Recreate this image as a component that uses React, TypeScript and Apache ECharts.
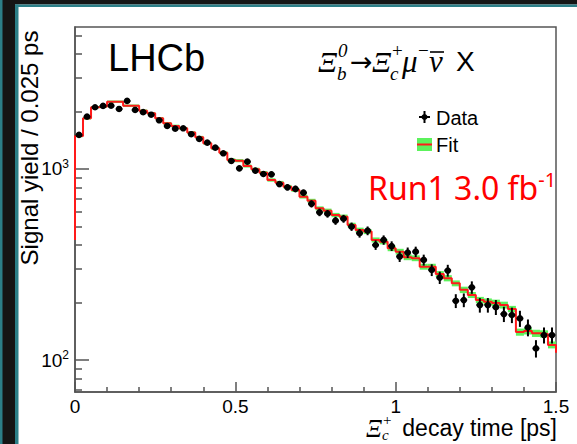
import React, { useEffect, useRef } from 'react';
import * as echarts from 'echarts';

// ---- data ----
const binWidth = 0.025; // ps per bin
const xMin = 0;
const xMax = 1.5;
const yMin = 68;
const yMax = 5535;

const dataValues = [
  1507, 1879, 2104, 2138, 2143, 2061, 2270, 2036, 1982, 1923,
  1798, 1679, 1625, 1633, 1520, 1436, 1373, 1293, 1208, 1101,
  1008, 1092, 980, 941, 938, 834, 802, 786, 751, 657,
  593, 583, 536, 549, 499, 461, 475, 400, 425, 395,
  348, 365, 369, 334, 296, 270, 294, 204, 206, 240,
  194, 194, 189, 174, 172, 165, 148, 115, 135, 135,
];
const dataErrors = [
  38, 45, 50, 50, 50, 49, 53, 48, 47, 46,
  46, 44, 43, 44, 42, 41, 40, 39, 38, 36,
  34, 36, 34, 34, 34, 31, 31, 31, 30, 28,
  27, 27, 26, 26, 25, 24, 25, 23, 24, 23,
  22, 23, 23, 22, 21, 20, 21, 17, 17, 18,
  17, 17, 17, 16, 16, 16, 15, 12, 13, 13,
];
const fitValues = [
  1489, 1842, 2104, 2120, 2250, 2250, 2143, 2143, 2018, 1958,
  1842, 1735, 1679, 1633, 1550, 1466, 1364, 1283, 1216, 1115,
  1105, 1037, 996, 956, 876, 848, 808, 776, 716, 682,
  622, 605, 574, 562, 509, 479, 470, 425, 416, 384,
  369, 345, 341, 308, 308, 282, 268, 252, 233, 219,
  206, 202, 199, 194, 185, 140, 142, 138, 137, 120,
];
const fitErrors = [
  22, 27, 30, 30, 32, 32, 31, 31, 30, 29,
  28, 27, 27, 26, 25, 24, 23, 22, 22, 21,
  21, 20, 19, 19, 18, 18, 17, 17, 16, 16,
  15, 15, 15, 15, 14, 14, 14, 13, 13, 13,
  13, 12, 12, 11, 11, 10, 10, 9, 9, 8,
  8, 8, 8, 8, 7, 6, 6, 6, 6, 5,
];
const fitEdgeStart = 425;
const fitEdgeEnd = 109;

const xTickLabels = [0, 0.5, 1, 1.5];
const yMajorTicks = [100, 1000];
const yMinorTicks = [70, 80, 90, 200, 300, 400, 500, 600, 700, 800, 900, 2000, 3000, 4000, 5000];

// ---- styles ----
const AX = '#555';
const SANS = '"Liberation Sans", Arial, sans-serif';
const SERIF = '"Liberation Serif", "DejaVu Serif", serif';
const RED = '#ff1a1a';
const GREEN = '#5cf25c';
const CAL = '"Noto Sans", "Open Sans", sans-serif';

function txt(text: string, x: number, y: number, font: string, extra: any = {}) {
  return {
    type: 'text',
    x,
    y,
    style: { text, font, fill: '#000', align: 'left', verticalAlign: 'middle', ...extra },
  };
}

export default function App() {
  const ref = useRef<HTMLDivElement>(null);

  useEffect(() => {
    const chart = echarts.init(ref.current!, null, { renderer: 'svg' });

    const dataPoints = dataValues.map((v, i) => [(i + 0.5) * binWidth, v, dataErrors[i]]);
    const bandRects = fitValues.map((v, i) => [i * binWidth, (i + 1) * binWidth, v - fitErrors[i], v + fitErrors[i]]);
    const stepPoints: number[][] = [[xMin, fitEdgeStart]];
    fitValues.forEach((v, i) => stepPoints.push([i * binWidth, v]));
    stepPoints.push([xMax, fitValues[fitValues.length - 1]]);
    stepPoints.push([xMax, fitEdgeEnd]);

    const halfArm = 0.0105;

    const option: any = {
      animation: false,
      backgroundColor: '#ffffff',
      grid: {
        left: 75, top: 27, width: 481, height: 365,
        show: true, borderColor: AX, borderWidth: 1.5, containLabel: false,
      },
      xAxis: {
        type: 'value', min: xMin, max: xMax, interval: 0.5,
        axisLine: { show: true, onZero: false, lineStyle: { color: AX, width: 1.5 } },
        axisTick: { show: true, inside: true, length: 10, lineStyle: { color: AX, width: 1.5 } },
        minorTick: { show: true, splitNumber: 5, length: 5, lineStyle: { color: AX, width: 1.5 } },
        splitLine: { show: false },
        axisLabel: {
          margin: 5, fontSize: 19, fontFamily: SANS, color: '#000',
          customValues: xTickLabels,
          formatter: (v: number) => String(v),
        },
      },
      yAxis: [
        {
          type: 'log', logBase: 10, min: yMin, max: yMax,
          axisLine: { show: true, lineStyle: { color: AX, width: 1.5 } },
          axisTick: { show: true, inside: true, length: 14, customValues: yMajorTicks, lineStyle: { color: AX, width: 1.5 } },
          splitLine: { show: false },
          minorTick: { show: false },
          axisLabel: {
            margin: 6,
            customValues: yMajorTicks,
            formatter: (v: number) => `{b|10}{s|${Math.round(Math.log10(v))}}`,
            rich: {
              b: { fontSize: 19, fontFamily: SANS, color: '#000', lineHeight: 22 },
              s: { fontSize: 12, fontFamily: SANS, color: '#000', verticalAlign: 'top', lineHeight: 12 },
            },
          },
        },
        {
          type: 'log', logBase: 10, min: yMin, max: yMax, position: 'left',
          axisLine: { show: false },
          axisTick: { show: true, inside: true, length: 7, customValues: yMinorTicks, lineStyle: { color: AX, width: 1.5 } },
          axisLabel: { show: false },
          splitLine: { show: false },
          minorTick: { show: false },
        },
      ],
      series: [
        {
          type: 'custom', name: 'band', z: 1, data: bandRects,
          encode: { x: [0, 1], y: [2, 3] },
          renderItem: (params: any, api: any) => {
            const p0 = api.coord([api.value(0), api.value(3)]);
            const p1 = api.coord([api.value(1), api.value(2)]);
            return {
              type: 'rect',
              shape: { x: p0[0], y: p0[1], width: p1[0] - p0[0], height: p1[1] - p0[1] },
              style: { fill: GREEN },
            };
          },
        },
        {
          type: 'line', name: 'Fit', z: 2, step: 'end', data: stepPoints,
          symbol: 'none', showSymbol: false,
          lineStyle: { color: RED, width: 2 },
        },
        {
          type: 'custom', name: 'Data', z: 3, data: dataPoints,
          encode: { x: 0, y: 1 },
          renderItem: (params: any, api: any) => {
            const x = api.value(0), y = api.value(1), e = api.value(2);
            const c = api.coord([x, y]);
            const top = api.coord([x, y + e]);
            const bot = api.coord([x, y - e]);
            const l = api.coord([x - halfArm, y]);
            const r = api.coord([x + halfArm, y]);
            return {
              type: 'group',
              children: [
                { type: 'line', shape: { x1: l[0], y1: c[1], x2: r[0], y2: c[1] }, style: { stroke: '#000', lineWidth: 2 } },
                { type: 'line', shape: { x1: c[0], y1: top[1], x2: c[0], y2: bot[1] }, style: { stroke: '#000', lineWidth: 2 } },
                { type: 'circle', shape: { cx: c[0], cy: c[1], r: 3.3 }, style: { fill: '#000' } },
              ],
            };
          },
        },
      ],
      graphic: [
        // slide frame
        { type: 'rect', shape: { x: 0, y: 0, width: 577, height: 4.5 }, style: { fill: '#151515' } },
        { type: 'rect', shape: { x: 0, y: 0, width: 15, height: 444 }, style: { fill: '#151515' } },
        { type: 'rect', shape: { x: 0, y: 0, width: 2.5, height: 444 }, style: { fill: '#2c7f88' } },
        { type: 'rect', shape: { x: 15, y: 4.5, width: 3.5, height: 440 }, style: { fill: '#2c7f88' } },
        { type: 'rect', shape: { x: 15, y: 4.5, width: 562, height: 2.5 }, style: { fill: '#2c7f88' } },
        // y title
        {
          type: 'text', x: 29.5, y: 148, rotation: Math.PI / 2,
          style: { text: 'Signal yield / 0.025 ps', font: `24px ${SANS}`, fill: '#000', align: 'center', verticalAlign: 'middle' },
        },
        // x title
        txt('decay time [ps]', 557, 428, `23px ${SANS}`, { align: 'right' }),
        txt('Ξ', 366, 428, `italic 25px ${SERIF}`),
        txt('+', 383, 420, `15px ${SERIF}`),
        txt('c', 382, 434.5, `italic 15px ${SERIF}`),
        // LHCb
        txt('LHCb', 108, 58, `38px ${SANS}`),
        // decay formula
        txt('Ξ', 318, 61, `italic 30px ${SERIF}`),
        txt('0', 338, 50.5, `italic 19px ${SERIF}`),
        txt('b', 337, 73.5, `italic 19px ${SERIF}`),
        txt('→', 350, 61, `27px "DejaVu Sans"`),
        txt('Ξ', 372, 61, `italic 30px ${SERIF}`),
        txt('+', 392, 50.5, `19px ${SERIF}`),
        txt('c', 390, 73.5, `italic 19px ${SERIF}`),
        txt('μ', 402, 61, `italic 31px ${SERIF}`),
        txt('−', 418, 50, `19px ${SERIF}`),
        txt('ν', 429, 61, `italic 31px ${SERIF}`),
        { type: 'line', shape: { x1: 430, y1: 52, x2: 444, y2: 52 }, style: { stroke: '#000', lineWidth: 1.6 } },
        txt('X', 456, 61, `28px ${SANS}`),
        // legend
        { type: 'line', shape: { x1: 419, y1: 117, x2: 430, y2: 117 }, style: { stroke: '#000', lineWidth: 2 } },
        { type: 'line', shape: { x1: 424.5, y1: 111, x2: 424.5, y2: 123 }, style: { stroke: '#000', lineWidth: 2 } },
        { type: 'circle', shape: { cx: 424.5, cy: 117, r: 3 }, style: { fill: '#000' } },
        txt('Data', 436, 118, `20px ${SANS}`),
        { type: 'rect', shape: { x: 417, y: 138, width: 15, height: 13 }, style: { fill: GREEN } },
        { type: 'line', shape: { x1: 417, y1: 144.5, x2: 432, y2: 144.5 }, style: { stroke: RED, lineWidth: 2 } },
        txt('Fit', 436, 145, `20px ${SANS}`),
        // run label
        {
          type: 'text', x: 368, y: 187,
          style: {
            text: '{m|Run1 3.0 fb}{s|-1}',
            fill: '#ff0000', align: 'left', verticalAlign: 'middle',
            rich: {
              m: { fontSize: 32, fontFamily: CAL, fill: '#ff0000', lineHeight: 36 },
              s: { fontSize: 20, fontFamily: CAL, fill: '#ff0000', verticalAlign: 'top', lineHeight: 20 },
            },
          },
        },
      ],
    };

    chart.setOption(option);
    return () => chart.dispose();
  }, []);

  return <div ref={ref} style={{ position: 'absolute', left: 0, top: 0, width: 577, height: 444 }} />;
}
